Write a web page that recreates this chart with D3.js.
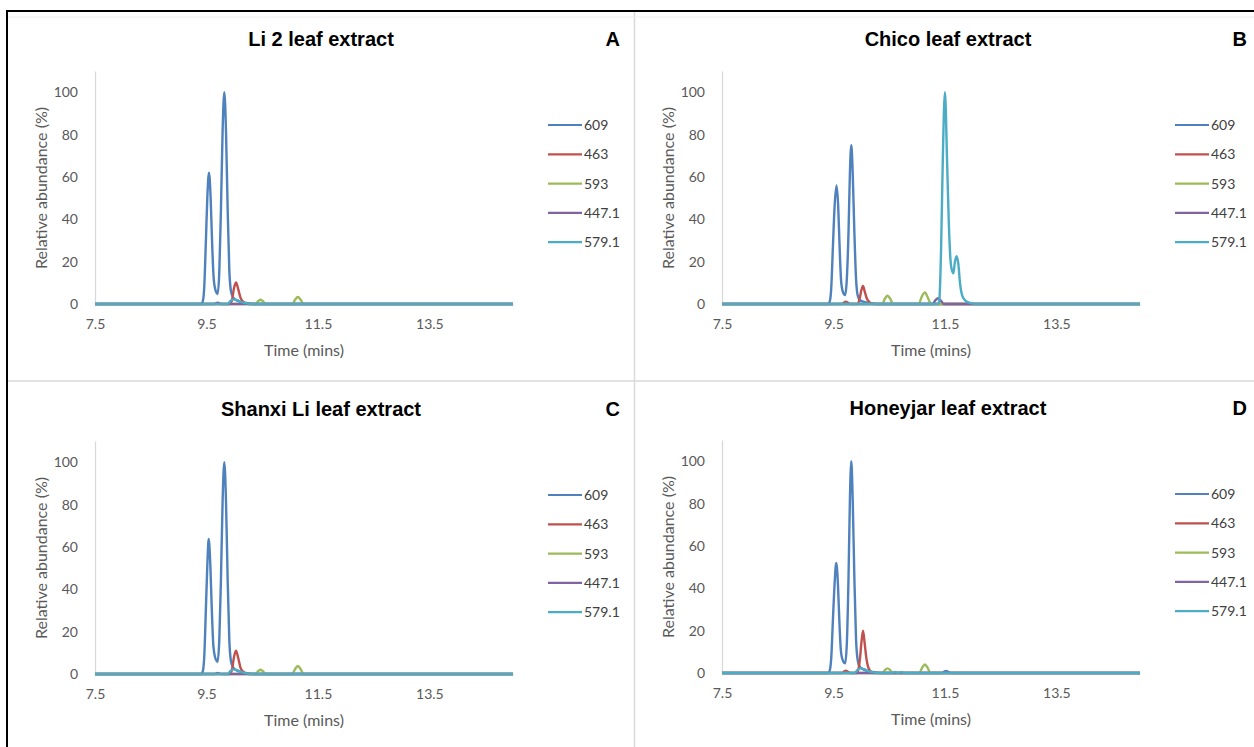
<!DOCTYPE html>
<html>
<head>
<meta charset="utf-8">
<script src="https://cdn.jsdelivr.net/npm/d3@7"></script>
<style>
  body { margin: 0; background: #fff; }
  svg { display: block; }
</style>
</head>
<body>
<svg id="chart" width="1254" height="747"></svg>
<script>
// panel titles and letters
var titles = ["Li 2 leaf extract", "Chico leaf extract", "Shanxi Li leaf extract", "Honeyjar leaf extract"];
var letters = ["A", "B", "C", "D"];
var seriesNames = ["609", "463", "593", "447.1", "579.1"];
var xTicks = [7.5, 9.5, 11.5, 13.5];
var yTicks = [0, 20, 40, 60, 80, 100];

// [time, relative abundance]
var li2_609 = [[7.5,0],[9.41,0],[9.44,2],[9.46,8],[9.49,30],[9.515,50],[9.545,62],[9.575,50],[9.60,30],[9.63,12],[9.67,5.8],[9.70,4.7],[9.73,15],[9.76,45],[9.79,82],[9.82,100],[9.85,82],[9.88,45],[9.91,16],[9.94,6],[9.98,3],[10.06,1.5],[10.2,0.5],[10.35,0],[15,0]];
var li2_463 = [[7.5,0],[9.92,0],[9.96,2],[9.99,7],[10.03,10.2],[10.07,7],[10.11,3],[10.16,1],[10.25,0],[15,0]];
var li2_593 = [[7.5,0],[10.38,0],[10.43,1.4],[10.47,2],[10.51,1.4],[10.56,0],[11.04,0],[11.09,2],[11.14,3.3],[11.19,2],[11.24,0],[15,0]];
var li2_447 = [[7.5,0],[9.64,0],[9.70,0.6],[9.76,0],[15,0]];
var li2_579 = [[7.5,0],[9.88,0],[9.93,1.5],[9.98,2.2],[10.05,1.8],[10.12,1],[10.2,0.4],[10.3,0],[15,0]];

var chico_609 = [[7.5,0],[9.41,0],[9.44,2],[9.46,7.5],[9.49,27],[9.52,46],[9.555,56],[9.585,46],[9.61,27],[9.64,10],[9.68,5],[9.71,4.2],[9.74,12],[9.77,34],[9.795,62],[9.82,75],[9.845,62],[9.875,34],[9.905,12],[9.935,4],[9.97,2],[10.05,1],[10.2,0.3],[10.3,0],[15,0]];
var chico_463 = [[7.5,0],[9.65,0],[9.69,0.7],[9.72,1.1],[9.76,0.6],[9.80,0],[9.93,0],[9.97,2.5],[10.0,6.5],[10.03,8.5],[10.06,6],[10.1,2.5],[10.15,0.8],[10.22,0],[15,0]];
var chico_593 = [[7.5,0],[10.38,0],[10.42,2.4],[10.47,3.9],[10.52,2.4],[10.57,0],[11.03,0],[11.08,3.2],[11.14,5.5],[11.19,3.2],[11.25,0],[15,0]];
var chico_447 = [[7.5,0],[11.28,0],[11.33,1.8],[11.38,2.7],[11.43,1.5],[11.48,0],[15,0]];
var chico_579 = [[7.5,0],[11.38,0],[11.40,2],[11.43,25],[11.46,66],[11.50,100],[11.54,66],[11.57,38],[11.61,18],[11.65,14.5],[11.68,20],[11.71,22.6],[11.74,19],[11.77,10],[11.81,4],[11.87,1.5],[11.95,0.5],[12.05,0],[15,0]];

var shanxi_609 = [[7.5,0],[9.41,0],[9.44,2],[9.46,8],[9.49,31],[9.515,51],[9.54,63.7],[9.57,51],[9.595,31],[9.625,13],[9.665,7],[9.70,5.8],[9.73,16],[9.76,45],[9.79,82],[9.82,100],[9.85,82],[9.88,45],[9.91,16],[9.94,6],[9.98,3],[10.06,1.5],[10.2,0.5],[10.35,0],[15,0]];
var shanxi_463 = [[7.5,0],[9.92,0],[9.96,2.2],[9.99,7.5],[10.03,11],[10.07,7.5],[10.11,3],[10.16,1],[10.25,0],[15,0]];
var shanxi_593 = [[7.5,0],[10.38,0],[10.43,1.4],[10.47,2],[10.51,1.4],[10.56,0],[11.04,0],[11.09,2.3],[11.14,3.8],[11.19,2.3],[11.24,0],[15,0]];
var shanxi_447 = [[7.5,0],[9.64,0],[9.70,0.5],[9.76,0],[15,0]];
var shanxi_579 = [[7.5,0],[9.88,0],[9.93,1.5],[9.98,2.2],[10.05,1.8],[10.12,1],[10.2,0.4],[10.3,0],[15,0]];

var honey_609 = [[7.5,0],[9.41,0],[9.44,2],[9.46,7],[9.49,25],[9.52,42],[9.55,52],[9.58,42],[9.605,25],[9.635,10],[9.675,5.5],[9.71,4.6],[9.74,14],[9.77,45],[9.795,82],[9.82,100],[9.845,82],[9.875,45],[9.905,16],[9.935,6],[9.97,3],[10.05,1.5],[10.2,0.5],[10.35,0],[11.45,0],[11.49,0.7],[11.52,1],[11.56,0.6],[11.6,0],[15,0]];
var honey_463 = [[7.5,0],[9.65,0],[9.69,0.7],[9.72,1.1],[9.76,0.6],[9.80,0],[9.92,0],[9.95,2],[9.98,8],[10.0,14],[10.03,20],[10.06,14],[10.09,7],[10.12,3],[10.16,1],[10.22,0],[15,0]];
var honey_593 = [[7.5,0],[10.38,0],[10.43,1.6],[10.47,2.2],[10.51,1.6],[10.56,0],[11.04,0],[11.09,2.4],[11.14,4],[11.19,2.4],[11.24,0],[15,0]];
var honey_447 = [[7.5,0],[15,0]];
var honey_579 = [[7.5,0],[9.88,0],[9.93,1.5],[9.98,2.2],[10.05,1.8],[10.12,1],[10.2,0.4],[10.3,0],[10.55,0],[10.6,0.5],[10.65,0],[10.72,0.4],[10.78,0],[15,0]];

var panelData = [
  [li2_609, li2_463, li2_593, li2_447, li2_579],
  [chico_609, chico_463, chico_593, chico_447, chico_579],
  [shanxi_609, shanxi_463, shanxi_593, shanxi_447, shanxi_579],
  [honey_609, honey_463, honey_593, honey_447, honey_579]
];

var colors = ["#4f81bd", "#c0504d", "#9bbb59", "#8064a2", "#4bacc6"];
var offsets = [[0, 0], [627, 0], [0, 370], [627, 369]];

var svg = d3.select("#chart");
var labelFont = "Lato, 'Open Sans', sans-serif";

// x and y scales are the same for every panel, panel offset goes on the group
var x = d3.scaleLinear().domain([7.5, 15]).range([95, 513]);
var y = d3.scaleLinear().domain([0, 110]).range([304, 71]);

var line = d3.line()
  .x(function(d) { return x(d[0]); })
  .y(function(d) { return y(d[1]); })
  .curve(d3.curveMonotoneX);

panelData.forEach(function(series, p) {
  var g = svg.append("g").attr("transform", "translate(" + offsets[p][0] + "," + offsets[p][1] + ")");

  // title and panel letter
  g.append("text")
    .attr("x", 321).attr("y", 46)
    .attr("text-anchor", "middle")
    .style("font-family", "'Liberation Sans', Arial, sans-serif")
    .style("font-weight", "bold").style("font-size", "20px")
    .text(titles[p]);
  g.append("text")
    .attr("x", 620).attr("y", 46)
    .attr("text-anchor", "end")
    .style("font-family", "'Liberation Sans', Arial, sans-serif")
    .style("font-weight", "bold").style("font-size", "20px")
    .text(letters[p]);

  // axes
  var yAxis = g.append("g")
    .attr("transform", "translate(95,0)")
    .call(d3.axisLeft(y).tickValues(yTicks).tickSize(0).tickPadding(17));
  var xAxis = g.append("g")
    .attr("transform", "translate(0,304)")
    .call(d3.axisBottom(x).tickValues(xTicks).tickSize(0).tickPadding(15).tickFormat(d3.format(".1f")));
  [xAxis, yAxis].forEach(function(a) {
    a.select(".domain").attr("stroke", "#d9d9d9").attr("stroke-width", 1.3);
    a.selectAll("text").style("font-family", labelFont).style("font-size", "14px").attr("fill", "#595959");
  });

  g.append("text")
    .attr("transform", "translate(47,188) rotate(-90)")
    .attr("text-anchor", "middle")
    .style("font-family", labelFont).style("font-size", "16px")
    .attr("fill", "#595959")
    .text("Relative abundance (%)");
  g.append("text")
    .attr("x", 304).attr("y", 356)
    .attr("text-anchor", "middle")
    .style("font-family", labelFont).style("font-size", "16px")
    .attr("fill", "#595959")
    .text("Time (mins)");

  // traces, 579.1 drawn last like in the original
  g.selectAll("path.trace")
    .data(series)
    .enter()
    .append("path")
    .attr("class", "trace")
    .attr("d", line)
    .attr("fill", "none")
    .attr("stroke", function(d, i) { return colors[i]; })
    .attr("stroke-width", 2.4)
    .attr("stroke-linejoin", "round");

  // legend
  var leg = g.selectAll("g.leg")
    .data(seriesNames)
    .enter()
    .append("g")
    .attr("class", "leg")
    .attr("transform", function(d, i) { return "translate(548," + (125 + i * 29.3) + ")"; });
  leg.append("line")
    .attr("x1", 0).attr("x2", 34)
    .attr("stroke", function(d, i) { return colors[i]; })
    .attr("stroke-width", 2.2);
  leg.append("text")
    .attr("x", 36).attr("y", 5)
    .style("font-family", labelFont).style("font-size", "14px")
    .attr("fill", "#404040")
    .text(function(d) { return d; });
});

// panel dividers and outer frame
svg.append("line").attr("x1", 634.5).attr("x2", 634.5).attr("y1", 11).attr("y2", 747)
  .attr("stroke", "#d9d9d9").attr("stroke-width", 1.5);
svg.append("line").attr("x1", 7).attr("x2", 1254).attr("y1", 381).attr("y2", 381)
  .attr("stroke", "#d9d9d9").attr("stroke-width", 1.5);
svg.append("line").attr("x1", 7).attr("x2", 1254).attr("y1", 17).attr("y2", 17)
  .attr("stroke", "#eeeeee").attr("stroke-width", 1);
svg.append("line").attr("x1", 6).attr("x2", 1254).attr("y1", 11).attr("y2", 11)
  .attr("stroke", "#000").attr("stroke-width", 2);
svg.append("line").attr("x1", 7).attr("x2", 7).attr("y1", 10).attr("y2", 747)
  .attr("stroke", "#000").attr("stroke-width", 2);
</script>
</body>
</html>
